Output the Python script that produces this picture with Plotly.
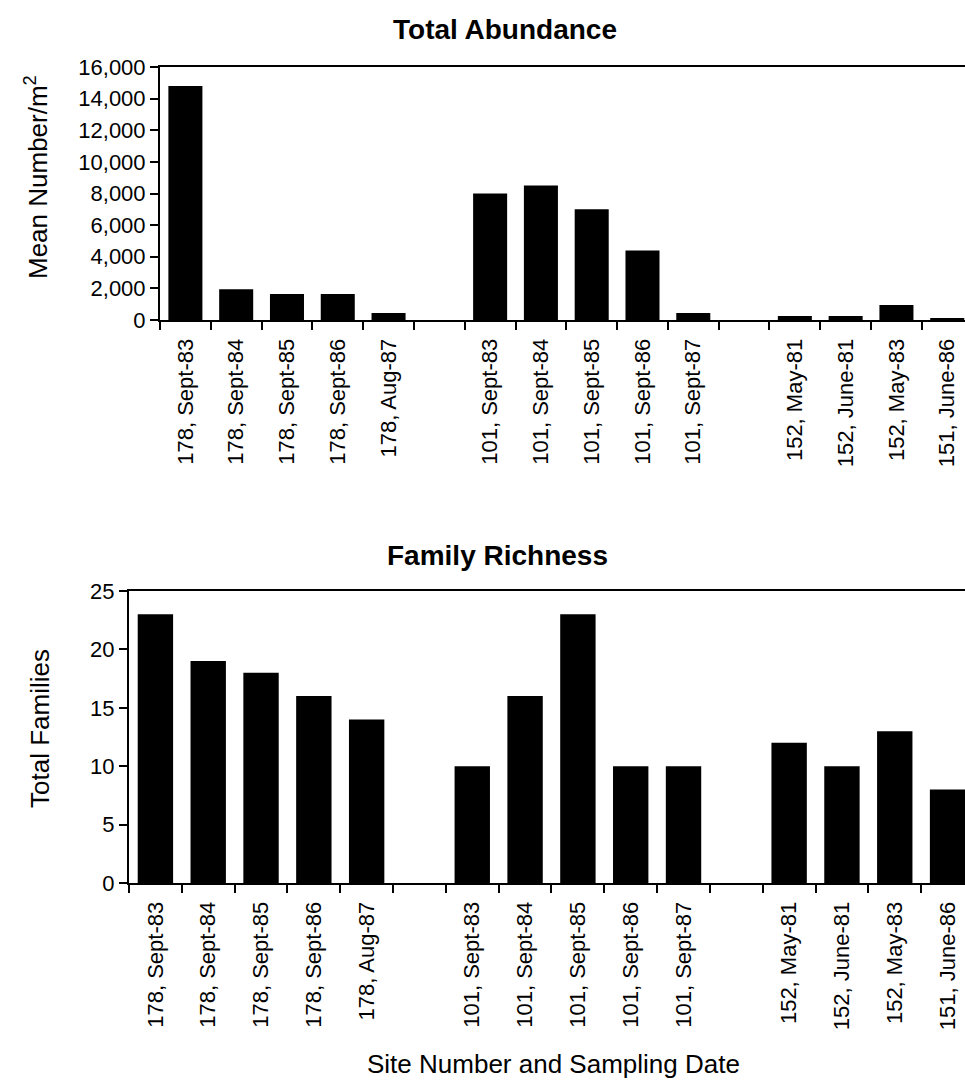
import plotly.graph_objects as go

# ---- data ----
categories = ["178, Sept-83", "178, Sept-84", "178, Sept-85", "178, Sept-86", "178, Aug-87", " ",
              "101, Sept-83", "101, Sept-84", "101, Sept-85", "101, Sept-86", "101, Sept-87", "  ",
              "152, May-81", "152, June-81", "152, May-83", "151, June-86"]
abundance = [14800, 1950, 1650, 1650, 450, None,
             8000, 8500, 7000, 4400, 450, None,
             250, 250, 950, 120]
richness = [23, 19, 18, 16, 14, None,
            10, 16, 23, 10, 10, None,
            12, 10, 13, 8]

W, H = 965, 1084
FONT = "Liberation Sans, Arial, sans-serif"
TICK = 22

fig = go.Figure()
fig.add_trace(go.Bar(x=categories, y=abundance, marker=dict(color="black", line=dict(width=0)),
                     xaxis="x", yaxis="y", showlegend=False))
fig.add_trace(go.Bar(x=categories, y=richness, marker=dict(color="black", line=dict(width=0)),
                     xaxis="x2", yaxis="y2", showlegend=False))

def xax(domain, rng, anchor):
    return dict(domain=domain, anchor=anchor, type="category", categoryorder="array",
                categoryarray=categories, range=rng, tickson="boundaries",
                ticks="outside", ticklen=8, tickwidth=2, tickcolor="black",
                ticklabelstandoff=8,
                showline=True, linecolor="black", linewidth=2, mirror=True,
                tickangle=-90, tickfont=dict(family=FONT, size=TICK, color="black"),
                showgrid=False, zeroline=False, fixedrange=True, automargin=False)

def yax(domain, rng, dtick, anchor, fmt):
    return dict(domain=domain, anchor=anchor, range=rng, dtick=dtick, tickformat=fmt,
                ticks="outside", ticklen=8, tickwidth=2, tickcolor="black",
                showline=True, linecolor="black", linewidth=2, mirror=False,
                tickfont=dict(family=FONT, size=TICK, color="black"),
                showgrid=False, zeroline=False, fixedrange=True, automargin=False)

fig.update_layout(
    width=W, height=H, autosize=False,
    margin=dict(l=0, r=0, t=0, b=0, pad=0, autoexpand=False),
    paper_bgcolor="white", plot_bgcolor="white",
    bargap=0.33,
    font=dict(family=FONT, color="black"),
    xaxis=xax([160 / W, 1], [-0.5, 15.35], "y"),
    yaxis=yax([1 - 320 / H, 1 - 67 / H], [0, 16000], 2000, "x", ",d"),
    xaxis2=xax([129 / W, 1], [-0.5, 15.33], "y2"),
    yaxis2=yax([1 - 883 / H, 1 - 591 / H], [0, 25], 5, "x2", "d"),
    annotations=[
        dict(text="<b>Total Abundance</b>", x=505 / W, y=1 - 30 / H, xref="paper", yref="paper",
             showarrow=False, font=dict(size=28, family=FONT), xanchor="center", yanchor="middle"),
        dict(text="<b>Family Richness</b>", x=498 / W, y=1 - 555 / H, xref="paper", yref="paper",
             showarrow=False, font=dict(size=28, family=FONT), xanchor="center", yanchor="middle"),
        dict(text="Mean Number/m<sup>2</sup>", x=37 / W, y=1 - 177 / H, xref="paper", yref="paper",
             showarrow=False, textangle=-90, font=dict(size=26, family=FONT),
             xanchor="center", yanchor="middle"),
        dict(text="Total Families", x=40 / W, y=1 - 729 / H, xref="paper", yref="paper",
             showarrow=False, textangle=-90, font=dict(size=26, family=FONT),
             xanchor="center", yanchor="middle"),
        dict(text="Site Number and Sampling Date", x=553 / W, y=1 - 1064 / H, xref="paper", yref="paper",
             showarrow=False, font=dict(size=26, family=FONT), xanchor="center", yanchor="middle"),
    ],
)

fig.write_html("out.html", config={"displayModeBar": False},
               post_script="document.body.style.margin='0';document.body.style.overflow='hidden';")
